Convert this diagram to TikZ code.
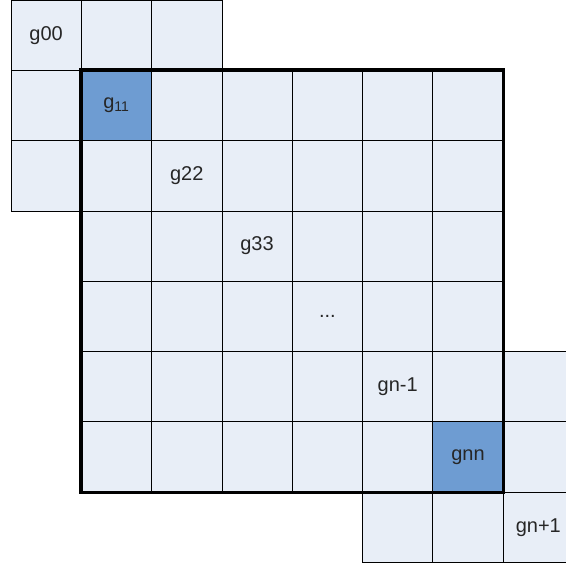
\documentclass[tikz,border=0pt]{standalone}
\usepackage{fontspec}
\setmainfont{Liberation Sans}
\usepackage{tikz}
\usetikzlibrary{positioning}
\definecolor{clair}{RGB}{232,238,247}
\definecolor{fonce}{RGB}{110,156,210}
\tikzset{
  cell/.style={draw=black,line width=0.8pt,fill=clair,minimum size=70.3pt,inner sep=0pt,font=\fontsize{20}{24}\selectfont,text=black!85},
  diag/.style={cell,fill=fonce},
  etiq/.style={font=\fontsize{20}{24}\selectfont,text=black!85},
  cadre/.style={line width=3.6pt,line join=miter}
}
\begin{document}
\begin{tikzpicture}[x=70.3pt,y=-70.3pt]
\useasboundingbox (-0.156,0) rectangle (7.88,8.05);
% bloc central n x n
\foreach \i in {1,...,6}
  \foreach \j in {1,...,6}
    \node[cell] (c\i\j) at (\i+0.5,\j+0.5) {};
% cellules de bord
\foreach \i/\j in {0/0,1/0,2/0,0/1,0/2,5/7,6/7,7/7,7/5,7/6}
  \node[cell] (c\i\j) at (\i+0.5,\j+0.5) {};
% diagonale
\node[diag] (g11) at (c11) {g\textsubscript{11}};
\node[diag] (gnn) at (c66) {gnn};
\node[etiq] (g00) at (c00) {g00};
\node[etiq] (g22) at (c22) {g22};
\node[etiq] (g33) at (c33) {g33};
\node[etiq] (gdots) at (c44) {...};
\node[etiq] (gn1) at (c55) {gn-1};
\node[etiq] (gnp) at (c77) {gn+1};
% cadre epais
\draw[cadre] (c11.north west) rectangle (c66.south east);
\end{tikzpicture}
\end{document}
